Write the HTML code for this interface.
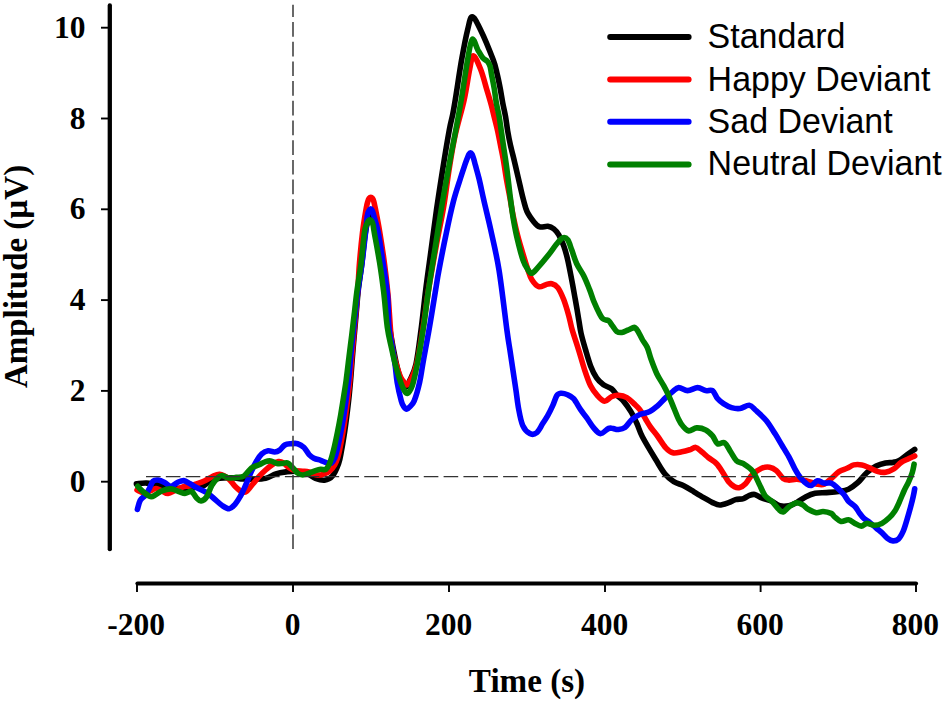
<!DOCTYPE html>
<html><head><meta charset="utf-8"><title>ERP</title>
<style>
html,body{margin:0;padding:0;background:#fff;}
body{width:945px;height:703px;overflow:hidden;}
svg{display:block;}
.tk{font-family:"Liberation Serif",serif;font-weight:bold;font-size:31.5px;fill:#000;}
.ax{font-family:"Liberation Serif",serif;font-weight:bold;font-size:34px;fill:#000;}
.lg{font-family:"Liberation Sans",sans-serif;font-size:36px;fill:#000;}
</style></head><body>
<svg width="945" height="703" viewBox="0 0 945 703">
<rect width="945" height="703" fill="#ffffff"/>
<path d="M136.4,483.8C138.1,483.7 143.0,482.9 146.6,483.1C150.2,483.3 152.3,484.1 158.0,485.0C163.7,485.9 173.7,488.1 181.0,488.3C188.3,488.5 197.0,487.4 201.7,486.3C206.4,485.2 206.4,482.8 209.4,481.5C212.4,480.2 215.8,478.9 219.6,478.3C223.4,477.7 228.6,477.7 232.4,477.8C236.2,477.9 239.3,478.8 242.7,479.0C246.1,479.2 249.0,479.4 252.8,479.3C256.6,479.2 261.8,479.3 265.6,478.4C269.5,477.5 272.5,474.9 275.9,473.8C279.3,472.7 282.4,472.3 286.0,471.9C289.6,471.5 294.0,470.9 297.6,471.2C301.2,471.5 304.9,472.6 307.9,473.8C310.9,475.0 312.7,477.2 315.5,478.3C318.3,479.4 321.7,480.5 324.5,480.2C327.3,479.9 329.8,479.1 332.2,476.3C334.6,473.5 337.0,467.9 338.6,463.5C340.2,459.1 340.6,455.2 341.6,450.0C342.6,444.8 343.7,437.8 344.6,432.0C345.5,426.2 346.2,420.8 346.9,415.0C347.6,409.2 348.4,402.8 349.0,397.0C349.6,391.2 350.0,386.7 350.6,380.0C351.2,373.3 351.8,364.5 352.4,357.0C353.0,349.5 353.6,342.3 354.3,334.8C355.0,327.3 355.6,319.5 356.3,312.0C357.0,304.5 357.4,298.1 358.3,290.0C359.2,281.9 360.8,272.3 361.9,263.1C363.0,253.9 364.0,242.2 365.0,235.0C366.0,227.8 367.1,223.5 368.0,220.0C368.9,216.5 369.5,214.0 370.3,214.0C371.1,214.0 371.7,216.5 372.6,220.0C373.5,223.5 374.2,227.8 375.5,235.0C376.8,242.2 378.9,253.0 380.5,263.0C382.1,273.0 383.4,283.8 385.0,295.0C386.6,306.2 388.2,318.8 390.0,330.0C391.8,341.2 394.2,353.7 396.0,362.0C397.8,370.3 399.4,375.8 401.0,380.0C402.6,384.2 404.1,386.8 405.5,387.0C406.9,387.2 407.8,384.8 409.5,381.0C411.2,377.2 414.0,373.0 416.0,364.0C418.0,355.0 419.8,339.3 421.4,327.0C423.0,314.7 424.1,302.8 425.7,290.0C427.3,277.2 429.3,263.3 431.1,250.0C432.9,236.7 434.6,223.3 436.5,210.0C438.4,196.7 440.5,183.3 442.6,170.0C444.7,156.7 447.6,139.3 449.3,130.0C451.0,120.7 451.8,119.1 452.8,114.0C453.8,108.9 453.8,108.6 455.3,99.6C456.8,90.6 459.6,71.4 461.6,59.8C463.7,48.2 465.8,37.0 467.6,29.9C469.4,22.8 470.0,16.9 472.2,16.9C474.4,16.9 477.1,22.8 480.6,29.9C484.1,37.0 490.4,52.4 493.2,59.8C496.0,67.2 496.0,69.4 497.2,74.2C498.4,79.0 499.3,83.7 500.2,88.4C501.1,93.2 501.8,98.0 502.7,102.7C503.6,107.5 504.8,112.2 505.6,116.9C506.4,121.6 506.9,126.4 507.7,131.1C508.5,135.8 509.4,140.5 510.5,145.3C511.6,150.1 513.3,156.6 514.1,160.0C514.9,163.4 514.4,161.3 515.5,166.0C516.6,170.7 519.3,182.3 520.6,188.0C521.9,193.7 522.4,196.1 523.5,200.0C524.6,203.9 525.3,207.8 527.0,211.5C528.7,215.2 531.8,219.3 533.9,221.9C536.0,224.5 537.5,226.2 539.8,226.9C542.1,227.6 545.5,226.0 547.8,226.3C550.1,226.6 552.0,227.5 553.8,228.9C555.6,230.3 557.1,232.1 558.8,234.9C560.4,237.7 562.2,241.7 563.7,245.8C565.2,250.0 566.4,254.2 567.7,259.8C569.0,265.4 570.4,273.1 571.7,279.7C573.0,286.3 574.1,293.0 575.3,299.6C576.5,306.2 577.8,313.9 578.7,319.5C579.7,325.1 579.9,327.9 581.0,333.0C582.1,338.1 584.0,344.4 585.6,349.9C587.2,355.4 588.8,361.2 590.6,365.9C592.4,370.5 594.4,374.6 596.5,377.8C598.6,381.0 601.0,383.0 603.5,384.8C606.0,386.6 609.2,387.0 611.5,388.8C613.8,390.6 615.4,393.6 617.5,395.7C619.6,397.8 621.7,399.0 623.9,401.6C626.1,404.2 628.7,408.0 630.9,411.6C633.1,415.2 635.0,419.3 636.9,423.5C638.8,427.7 639.3,430.9 642.5,437.0C645.7,443.1 652.2,453.7 655.9,459.8C659.6,465.9 661.8,470.1 664.8,473.7C667.8,477.3 670.6,479.7 673.8,481.7C676.9,483.7 680.4,484.0 683.7,485.7C687.0,487.4 690.4,489.6 693.7,491.6C697.0,493.6 700.6,495.8 703.7,497.6C706.9,499.4 710.0,501.4 712.6,502.6C715.2,503.8 716.9,505.0 719.6,505.0C722.3,505.0 726.0,503.5 728.6,502.6C731.2,501.7 733.0,500.3 735.5,499.6C738.0,498.9 741.2,499.3 743.5,498.6C745.8,497.9 747.1,496.3 749.0,495.6C750.9,494.9 752.7,494.1 754.8,494.5C756.9,494.9 758.8,496.8 761.6,497.9C764.5,499.0 768.9,500.0 771.9,501.3C774.9,502.6 777.0,505.1 779.8,505.8C782.6,506.6 786.0,506.4 788.9,505.8C791.8,505.2 794.0,503.9 796.9,502.4C799.8,500.9 803.0,498.2 806.0,496.7C809.0,495.2 811.7,494.0 815.1,493.3C818.5,492.6 822.6,492.9 826.5,492.6C830.4,492.3 834.8,492.1 838.5,491.5C842.2,490.9 845.3,490.7 848.5,489.2C851.7,487.7 854.6,485.5 857.7,482.7C860.8,479.9 863.9,475.3 867.0,472.5C870.1,469.7 873.1,467.6 876.2,466.0C879.3,464.4 882.7,463.5 885.5,462.9C888.3,462.3 890.6,462.8 892.9,462.4C895.2,462.0 897.0,461.7 899.3,460.5C901.6,459.3 904.1,456.9 906.7,455.0C909.3,453.1 913.4,450.3 914.7,449.4" fill="none" stroke="#000000" stroke-width="5.6" stroke-linecap="round" stroke-linejoin="round"/>
<path d="M137.0,490.0C138.2,490.5 141.8,492.8 144.0,493.0C146.2,493.2 148.0,491.8 150.0,491.0C152.0,490.2 154.0,488.5 156.0,488.5C158.0,488.5 160.0,490.2 162.0,491.0C164.0,491.8 165.7,493.7 168.0,493.5C170.3,493.3 173.3,491.2 176.0,490.0C178.7,488.8 181.7,487.2 184.0,486.5C186.3,485.8 187.9,486.4 190.0,486.0C192.1,485.6 194.2,484.6 196.6,483.8C199.0,483.0 201.7,482.2 204.3,481.0C206.9,479.8 209.4,477.9 212.0,476.8C214.6,475.7 216.8,473.9 219.6,474.2C222.4,474.5 226.0,476.7 228.6,478.7C231.2,480.7 232.9,484.2 235.0,486.3C237.1,488.4 239.5,490.6 241.4,491.5C243.3,492.4 244.5,492.8 246.4,491.5C248.3,490.2 250.7,486.5 252.8,484.0C254.9,481.5 257.1,478.6 259.2,476.3C261.3,474.0 263.5,471.9 265.6,470.0C267.7,468.1 269.9,466.2 272.0,464.8C274.1,463.4 276.5,461.9 278.4,461.6C280.3,461.3 281.8,461.9 283.5,462.9C285.2,463.9 286.8,466.1 288.7,467.4C290.6,468.7 292.7,470.0 295.0,470.6C297.3,471.2 300.4,471.0 302.7,471.2C305.0,471.4 306.6,471.3 309.0,471.9C311.4,472.5 314.4,474.6 316.8,475.0C319.2,475.4 321.1,475.0 323.2,474.4C325.3,473.8 327.7,472.8 329.6,471.2C331.5,469.6 333.4,467.0 334.7,464.8C336.0,462.6 336.8,460.5 337.6,458.0C338.4,455.5 338.7,454.3 339.6,450.0C340.5,445.7 342.0,437.8 343.0,432.0C344.0,426.2 344.8,420.8 345.6,415.0C346.4,409.2 347.3,402.8 348.0,397.0C348.7,391.2 349.3,386.7 349.9,380.0C350.5,373.3 351.1,364.5 351.8,357.0C352.5,349.5 353.1,342.3 353.8,334.8C354.5,327.3 355.2,319.5 355.9,312.0C356.6,304.5 357.2,298.1 357.8,290.0C358.4,281.9 358.7,272.8 359.5,263.1C360.3,253.4 361.5,241.0 362.6,231.9C363.7,222.8 365.3,213.5 366.2,208.4C367.1,203.3 367.3,203.2 367.8,201.5C368.3,199.8 368.8,198.9 369.3,198.2C369.8,197.5 370.3,197.2 370.8,197.2C371.3,197.2 371.8,197.5 372.3,198.2C372.8,198.9 373.3,199.8 373.8,201.5C374.3,203.2 374.3,203.3 375.3,208.4C376.3,213.5 378.2,222.8 379.7,231.9C381.2,241.0 383.0,252.6 384.4,263.1C385.8,273.6 386.7,281.1 388.0,294.8C389.3,308.5 390.2,332.4 392.0,345.5C393.8,358.6 397.1,367.2 399.0,373.2C400.9,379.2 402.2,379.5 403.5,381.5C404.8,383.5 405.6,385.2 406.8,385.0C408.0,384.8 409.2,382.2 410.5,380.0C411.8,377.8 413.0,375.8 414.3,372.0C415.6,368.2 416.6,365.3 418.2,357.0C419.8,348.7 422.1,333.7 423.9,322.0C425.7,310.3 427.0,299.5 429.0,287.0C431.0,274.5 433.6,260.3 436.0,247.0C438.4,233.7 441.4,219.8 443.6,207.0C445.8,194.2 447.1,181.8 449.0,170.0C450.9,158.2 452.5,147.7 455.0,136.0C457.5,124.3 461.8,110.6 464.2,99.6C466.6,88.5 468.1,77.0 469.6,69.7C471.1,62.4 471.5,55.8 473.4,55.8C475.3,55.8 478.6,64.2 480.8,69.7C483.0,75.2 484.9,83.1 486.6,89.0C488.4,94.9 490.0,100.2 491.3,105.0C492.6,109.8 493.4,113.7 494.5,118.0C495.6,122.3 496.7,126.5 497.7,131.1C498.7,135.7 499.6,140.5 500.5,145.3C501.4,150.1 502.4,154.2 503.4,160.0C504.4,165.8 505.5,173.8 506.6,180.0C507.7,186.2 508.7,191.2 509.8,197.0C510.9,202.8 511.7,208.7 513.0,215.0C514.3,221.3 515.8,228.3 517.5,235.0C519.2,241.7 521.5,249.2 523.3,255.0C525.0,260.8 526.6,265.9 528.0,270.0C529.4,274.1 530.1,276.9 531.9,279.7C533.7,282.5 536.5,285.9 538.8,286.7C541.1,287.5 543.6,285.2 545.8,284.7C548.0,284.2 549.8,283.2 551.8,283.7C553.8,284.2 555.8,285.0 557.8,287.6C559.8,290.2 561.9,295.0 563.7,299.6C565.5,304.2 567.3,310.5 568.7,315.5C570.1,320.5 570.5,323.8 572.1,329.5C573.8,335.2 576.5,343.2 578.6,349.9C580.7,356.6 582.6,363.8 584.6,369.8C586.6,375.8 588.5,381.5 590.6,385.8C592.8,390.1 595.2,393.1 597.5,395.7C599.8,398.3 602.2,401.1 604.5,401.3C606.8,401.5 609.2,397.7 611.5,396.7C613.8,395.7 615.8,395.1 618.4,395.3C621.0,395.5 624.3,396.2 626.9,397.6C629.5,399.0 631.8,401.6 633.9,403.6C636.0,405.6 637.8,407.0 639.8,409.6C641.8,412.2 644.0,416.5 645.8,419.5C647.6,422.5 648.8,424.7 650.8,427.5C652.8,430.3 655.3,433.1 657.8,436.5C660.3,439.9 663.3,445.1 665.8,447.8C668.3,450.5 670.1,452.1 672.8,452.8C675.5,453.5 679.0,452.3 681.8,451.8C684.6,451.3 687.4,450.5 689.7,449.8C692.0,449.1 693.7,447.1 695.7,447.4C697.7,447.7 699.6,450.1 701.7,451.8C703.9,453.5 706.1,455.8 708.6,457.8C711.1,459.8 714.1,461.1 716.6,463.7C719.1,466.3 721.6,470.7 723.6,473.7C725.6,476.7 726.8,479.5 728.6,481.7C730.4,483.9 732.7,485.7 734.5,486.7C736.3,487.7 737.7,488.1 739.5,487.6C741.3,487.1 743.4,485.8 745.5,483.7C747.6,481.6 749.3,477.6 752.0,475.0C754.7,472.4 758.7,469.6 761.6,468.3C764.5,467.0 767.1,466.8 769.6,467.2C772.1,467.6 774.1,468.7 776.4,470.6C778.7,472.5 781.1,476.9 783.2,478.5C785.3,480.1 786.6,480.0 788.9,480.1C791.2,480.2 794.0,479.1 796.9,479.2C799.8,479.3 802.6,480.0 806.0,480.8C809.4,481.6 814.4,483.6 817.4,484.2C820.4,484.8 821.9,485.2 824.2,484.2C826.6,483.2 829.0,480.4 831.5,478.3C834.0,476.2 836.4,473.4 839.0,471.7C841.6,470.0 844.5,469.4 847.0,468.3C849.5,467.2 851.3,465.5 853.8,464.9C856.3,464.3 859.1,464.4 861.8,464.9C864.4,465.4 867.0,466.8 869.7,467.9C872.4,469.0 875.5,470.9 878.1,471.6C880.7,472.3 882.9,472.7 885.5,472.2C888.1,471.7 891.2,470.4 893.8,468.8C896.4,467.2 898.7,464.1 901.2,462.4C903.7,460.7 906.4,459.8 908.6,458.7C910.9,457.6 913.7,456.4 914.7,455.9" fill="none" stroke="#ff0000" stroke-width="5.6" stroke-linecap="round" stroke-linejoin="round"/>
<path d="M137.4,509.4C137.9,507.9 138.9,502.8 140.2,500.4C141.5,498.0 143.9,497.2 145.4,495.3C146.9,493.4 147.9,491.2 149.2,488.9C150.5,486.5 151.5,482.7 153.0,481.2C154.5,479.7 156.3,479.8 158.2,480.0C160.1,480.2 162.5,481.4 164.6,482.5C166.7,483.6 168.9,486.3 171.0,486.3C173.1,486.3 175.3,483.4 177.4,482.5C179.5,481.6 181.7,480.4 183.8,480.6C185.9,480.8 187.8,482.5 190.2,483.8C192.5,485.1 195.1,486.8 197.9,488.3C200.7,489.8 204.0,490.9 206.8,492.7C209.6,494.5 211.9,496.9 214.5,499.0C217.1,501.1 219.8,503.9 222.2,505.5C224.6,507.1 227.1,508.9 229.2,508.7C231.3,508.5 233.1,506.4 235.0,504.3C236.9,502.2 238.8,498.9 240.5,496.0C242.2,493.1 243.2,490.7 245.0,486.6C246.8,482.5 249.6,475.5 251.5,471.2C253.4,466.9 254.9,463.9 256.6,461.0C258.3,458.1 259.9,455.6 261.8,453.9C263.7,452.2 266.1,451.0 268.2,450.7C270.3,450.4 272.7,452.1 274.6,452.0C276.5,451.9 278.0,451.3 279.7,450.1C281.4,448.9 282.9,446.1 284.8,445.0C286.7,443.9 289.1,443.9 291.2,443.7C293.3,443.5 295.5,443.1 297.6,443.7C299.7,444.3 302.1,445.7 304.0,447.5C305.9,449.3 307.4,452.8 309.1,454.6C310.8,456.4 312.4,457.4 314.3,458.4C316.2,459.3 318.6,459.6 320.7,460.3C322.8,461.1 325.2,462.4 327.0,462.9C328.8,463.3 330.2,463.8 331.5,463.0C332.8,462.2 333.9,460.2 334.8,458.0C335.7,455.8 336.1,454.3 337.1,450.0C338.1,445.7 339.8,437.8 340.9,432.0C342.0,426.2 343.0,420.8 343.9,415.0C344.8,409.2 345.7,402.8 346.5,397.0C347.3,391.2 347.9,386.7 348.6,380.0C349.3,373.3 350.0,364.5 350.7,357.0C351.4,349.5 352.2,342.3 353.0,334.8C353.8,327.3 354.7,319.5 355.5,312.0C356.3,304.5 356.9,298.1 358.0,290.0C359.1,281.9 360.8,272.3 362.0,263.1C363.2,253.9 364.4,242.8 365.3,235.0C366.2,227.2 366.7,220.0 367.3,216.0C367.9,212.0 368.3,212.2 368.8,211.0C369.3,209.8 369.9,209.0 370.5,208.9C371.1,208.8 371.6,209.3 372.2,210.5C372.8,211.7 372.9,212.4 373.9,216.0C374.9,219.6 376.6,224.1 378.1,231.9C379.6,239.8 381.5,252.6 383.1,263.1C384.7,273.6 386.5,284.2 387.5,294.8C388.5,305.4 388.1,318.5 388.9,327.0C389.6,335.5 391.0,339.8 392.0,346.0C393.0,352.2 394.1,357.9 395.0,364.0C395.9,370.1 396.1,376.2 397.2,382.4C398.2,388.5 400.2,396.8 401.3,400.9C402.4,405.0 403.1,405.6 404.0,407.0C404.9,408.4 405.9,409.2 406.8,409.2C407.7,409.2 408.4,408.4 409.6,407.0C410.8,405.6 412.5,405.0 414.2,400.9C415.9,396.8 418.2,388.5 419.6,382.4C421.0,376.2 421.2,373.2 422.8,364.0C424.4,354.8 427.4,339.3 429.5,327.0C431.6,314.7 434.1,299.3 435.6,290.0C437.2,280.7 437.0,280.6 438.8,271.0C440.6,261.4 443.9,244.3 446.4,232.6C448.8,220.9 451.2,210.0 453.5,201.0C455.8,192.0 458.5,184.4 460.4,178.5C462.2,172.6 463.5,169.0 464.6,165.6C465.8,162.2 466.6,160.1 467.3,158.2C468.0,156.3 468.4,155.3 468.9,154.4C469.4,153.5 470.0,152.8 470.5,152.8C471.0,152.8 471.6,153.5 472.1,154.4C472.6,155.3 473.0,156.6 473.6,158.5C474.2,160.4 474.6,162.3 475.5,165.6C476.4,168.9 477.6,172.8 479.0,178.5C480.4,184.2 481.8,191.2 483.7,199.7C485.6,208.2 488.1,217.9 490.7,229.6C493.2,241.3 496.3,253.3 499.0,270.0C501.7,286.7 505.1,316.7 506.9,330.0C508.7,343.3 508.9,343.3 509.9,349.9C510.9,356.5 511.9,363.1 512.9,369.8C513.9,376.5 514.9,383.2 515.9,389.8C516.9,396.4 517.6,403.7 518.8,409.7C519.9,415.7 521.0,421.6 522.8,425.6C524.6,429.6 527.5,432.4 529.8,433.6C532.1,434.8 534.6,434.3 536.8,432.6C538.9,430.9 540.9,426.4 542.7,423.6C544.5,420.8 546.0,418.7 547.7,415.7C549.4,412.7 551.2,409.0 552.7,405.7C554.2,402.4 555.4,397.8 556.7,395.7C558.0,393.6 558.9,393.5 560.7,393.3C562.5,393.1 565.5,393.8 567.6,394.7C569.8,395.6 571.4,396.2 573.6,398.7C575.8,401.2 578.4,406.5 580.6,409.7C582.8,412.9 584.5,414.6 586.6,417.6C588.8,420.6 591.2,424.9 593.5,427.6C595.8,430.3 598.0,433.5 600.5,433.6C603.0,433.8 606.3,429.3 608.5,428.5C610.7,427.7 611.9,428.4 613.5,428.6C615.1,428.8 616.0,429.7 617.9,429.5C619.8,429.3 622.6,429.2 624.9,427.5C627.2,425.8 629.4,421.7 631.9,419.5C634.4,417.3 636.8,415.8 639.8,414.5C642.8,413.2 646.8,413.1 649.8,411.6C652.8,410.1 655.1,407.9 657.8,405.6C660.4,403.3 663.2,399.9 665.7,397.6C668.2,395.3 670.5,393.3 672.7,391.6C674.9,389.9 676.2,387.8 678.7,387.6C681.2,387.4 684.5,390.6 687.6,390.6C690.8,390.6 694.6,387.6 697.6,387.6C700.6,387.6 703.1,390.1 705.6,390.6C708.1,391.1 710.5,389.3 712.5,390.6C714.5,391.9 715.7,396.4 717.5,398.6C719.3,400.8 721.2,402.1 723.5,403.6C725.8,405.1 728.8,406.8 731.5,407.6C734.2,408.4 737.0,408.9 740.0,408.5C743.0,408.1 746.6,405.0 749.3,405.3C752.0,405.6 753.2,408.0 756.0,410.5C758.8,413.0 763.0,416.6 766.2,420.5C769.4,424.4 772.6,429.9 775.3,434.1C777.9,438.3 779.8,441.7 782.1,445.5C784.4,449.3 786.8,453.1 788.9,456.9C791.0,460.7 792.7,464.9 794.6,468.3C796.5,471.7 798.2,474.8 800.3,477.4C802.4,480.0 805.3,482.9 807.2,484.2C809.1,485.5 810.0,486.0 811.7,485.4C813.4,484.8 815.3,481.2 817.4,480.8C819.5,480.4 821.9,482.7 824.2,483.1C826.5,483.5 828.9,482.3 831.1,483.1C833.3,483.9 835.3,485.9 837.4,487.8C839.5,489.7 842.0,492.3 843.9,494.5C845.8,496.7 846.6,499.2 848.5,501.2C850.4,503.2 853.1,504.5 855.0,506.5C856.9,508.5 858.1,511.2 859.6,513.2C861.1,515.2 862.5,517.2 864.2,518.7C865.9,520.2 867.7,520.9 869.7,522.4C871.7,523.9 874.2,526.3 876.2,528.0C878.2,529.7 879.9,530.9 881.8,532.6C883.6,534.3 885.4,536.8 887.3,538.2C889.1,539.6 891.0,540.8 892.9,540.9C894.8,541.0 896.7,540.6 898.4,539.1C900.1,537.6 901.6,534.8 903.0,531.7C904.4,528.6 905.5,524.6 906.7,520.6C907.9,516.6 909.3,511.7 910.4,507.7C911.5,503.7 912.5,499.8 913.2,496.6C913.9,493.5 914.5,490.1 914.7,488.8" fill="none" stroke="#0000ff" stroke-width="5.6" stroke-linecap="round" stroke-linejoin="round"/>
<path d="M137.7,486.3C138.5,487.2 140.7,489.8 142.8,491.5C144.9,493.2 148.4,496.1 150.5,496.6C152.6,497.1 153.7,495.7 155.6,494.7C157.5,493.7 159.4,491.8 162.0,490.8C164.6,489.8 168.2,488.8 171.0,488.9C173.8,489.0 176.4,490.8 178.7,491.5C181.0,492.2 182.9,493.4 185.0,493.4C187.1,493.4 189.6,490.8 191.5,491.5C193.4,492.2 195.0,496.3 196.6,497.9C198.2,499.5 199.3,501.2 201.0,501.0C202.7,500.8 205.0,499.3 206.8,496.6C208.6,493.9 210.1,488.2 212.0,485.0C213.9,481.8 216.6,479.0 218.3,477.4C220.0,475.8 220.5,475.4 222.2,475.5C223.9,475.6 226.2,477.7 228.6,478.0C230.9,478.3 233.7,477.7 236.3,477.4C238.9,477.1 241.5,477.6 244.0,476.0C246.5,474.4 249.0,469.9 251.5,468.0C254.0,466.1 256.8,465.9 259.2,464.8C261.6,463.7 263.7,462.2 265.6,461.6C267.5,461.0 268.8,460.7 270.7,461.0C272.6,461.3 275.1,463.1 277.0,463.5C278.9,463.9 280.6,463.6 282.3,463.5C284.0,463.4 285.7,462.2 287.4,462.9C289.1,463.5 290.8,465.7 292.5,467.4C294.2,469.1 295.9,471.8 297.6,473.1C299.3,474.4 300.8,475.0 302.7,475.0C304.6,475.0 307.0,473.8 309.1,473.1C311.2,472.4 313.6,471.2 315.5,470.6C317.4,470.0 319.0,469.5 320.7,469.3C322.4,469.1 324.3,470.3 325.8,469.3C327.3,468.3 328.3,466.7 329.6,463.5C330.9,460.3 332.3,455.2 333.6,450.0C334.9,444.8 336.3,437.9 337.5,432.0C338.7,426.1 339.7,420.7 340.7,414.9C341.7,409.1 342.7,402.8 343.6,397.0C344.5,391.2 345.3,386.7 346.2,380.0C347.1,373.3 348.1,364.5 349.0,357.0C349.9,349.5 350.9,342.3 351.8,334.8C352.7,327.3 353.6,319.5 354.5,312.0C355.4,304.5 356.0,298.1 357.1,290.0C358.2,281.9 359.9,272.8 361.1,263.1C362.3,253.4 363.6,238.3 364.5,231.9C365.4,225.5 366.0,226.3 366.6,224.5C367.2,222.7 367.7,221.8 368.3,221.0C368.9,220.2 369.4,219.8 370.0,219.8C370.6,219.8 371.2,220.1 371.7,221.0C372.2,221.9 372.7,223.2 373.1,225.0C373.5,226.8 373.1,225.6 374.2,231.9C375.3,238.2 378.1,253.1 379.7,263.1C381.3,273.1 382.4,281.4 383.7,292.0C385.0,302.6 386.0,317.7 387.3,327.0C388.6,336.3 390.2,341.8 391.5,348.0C392.8,354.2 393.7,358.3 395.2,364.0C396.7,369.7 399.2,378.1 400.7,382.4C402.2,386.7 402.9,388.1 404.0,390.0C405.1,391.9 406.3,393.6 407.4,393.5C408.5,393.4 409.6,391.4 410.6,389.5C411.6,387.6 412.2,386.6 413.3,382.4C414.4,378.1 415.6,373.2 417.3,364.0C419.0,354.8 421.6,339.3 423.5,327.0C425.4,314.7 426.5,303.7 428.5,290.0C430.5,276.3 433.4,259.2 435.6,245.0C437.9,230.8 439.6,219.2 442.0,205.0C444.4,190.8 447.7,172.5 450.0,160.0C452.3,147.5 453.9,140.1 455.8,130.0C457.7,119.9 459.3,111.3 461.3,99.6C463.3,87.9 465.8,69.8 467.6,59.8C469.4,49.8 470.5,41.1 472.2,39.4C473.9,37.7 476.1,46.7 477.8,49.8C479.6,52.9 481.1,55.8 482.7,57.8C484.3,59.8 486.3,60.1 487.5,61.5C488.7,62.9 489.3,63.9 490.0,66.0C490.7,68.1 490.8,70.5 491.5,74.2C492.2,77.9 493.4,83.7 494.2,88.4C495.0,93.2 495.5,98.0 496.3,102.7C497.1,107.5 498.4,112.2 499.2,116.9C500.0,121.6 500.6,126.4 501.3,131.1C502.0,135.8 502.7,140.5 503.4,145.3C504.1,150.1 504.8,154.6 505.6,160.0C506.4,165.4 507.3,172.2 508.0,178.0C508.7,183.8 509.1,188.0 510.0,195.0C510.9,202.0 512.2,212.4 513.5,219.9C514.8,227.4 515.9,233.2 517.5,239.8C519.1,246.5 521.2,254.8 522.9,259.8C524.6,264.8 526.4,267.4 527.9,269.7C529.4,271.9 530.2,273.6 531.9,273.3C533.5,273.0 535.1,270.6 537.8,267.7C540.4,264.8 544.6,259.8 547.8,255.8C551.0,251.8 554.3,246.8 556.8,243.8C559.3,240.8 560.9,238.5 562.7,237.8C564.5,237.1 566.2,237.8 567.7,239.8C569.2,241.8 570.2,245.8 571.7,249.8C573.2,253.8 574.7,259.4 576.7,263.7C578.7,268.0 581.6,271.4 583.7,275.7C585.9,280.0 587.9,285.4 589.6,289.6C591.3,293.8 592.0,297.1 593.7,301.1C595.4,305.2 598.1,311.0 599.6,313.9C601.1,316.8 601.6,317.6 602.6,318.6C603.6,319.6 604.5,319.5 605.6,319.9C606.7,320.3 607.9,320.0 609.0,321.0C610.1,322.0 611.2,324.2 612.5,325.9C613.8,327.6 615.2,330.3 616.7,331.4C618.2,332.5 619.9,332.7 621.8,332.5C623.6,332.3 626.0,330.9 627.8,330.1C629.6,329.4 631.3,328.4 632.5,328.0C633.7,327.6 634.0,327.0 634.9,327.6C635.8,328.2 636.9,329.5 638.1,331.5C639.3,333.5 640.8,336.8 642.3,339.5C643.8,342.2 645.8,344.2 647.3,347.5C648.8,350.8 649.4,354.6 651.0,359.0C652.6,363.4 654.7,369.2 656.8,373.7C658.9,378.1 661.7,382.0 663.7,385.7C665.7,389.4 667.0,392.0 668.7,395.6C670.4,399.2 672.0,403.6 673.7,407.6C675.4,411.6 677.2,416.4 678.7,419.5C680.2,422.6 681.1,424.1 682.8,426.0C684.5,427.9 686.4,430.6 688.7,430.9C691.0,431.2 693.9,428.1 696.7,427.9C699.5,427.7 703.1,428.6 705.7,429.9C708.4,431.2 710.6,433.6 712.6,435.9C714.6,438.2 715.6,442.6 717.6,443.8C719.6,445.0 722.4,441.5 724.6,442.8C726.8,444.1 728.6,448.8 730.6,451.8C732.6,454.8 734.4,458.8 736.5,460.8C738.6,462.8 740.8,462.0 743.5,463.7C746.2,465.4 749.9,467.6 752.5,471.0C755.1,474.4 757.2,480.1 759.3,484.2C761.4,488.3 762.9,492.8 765.0,495.6C767.1,498.5 769.6,499.0 771.9,501.3C774.2,503.6 776.8,507.5 778.7,509.3C780.6,511.1 781.5,512.4 783.2,512.0C784.9,511.6 786.8,508.5 788.9,507.0C791.0,505.5 793.5,503.3 795.8,502.9C798.1,502.5 800.5,503.6 802.6,504.7C804.7,505.8 806.0,508.0 808.3,509.3C810.6,510.6 813.8,512.3 816.3,512.7C818.8,513.1 820.6,511.4 823.1,511.5C825.6,511.6 829.2,512.5 831.1,513.4C833.0,514.3 832.9,515.5 834.6,516.9C836.3,518.2 838.8,521.0 841.1,521.5C843.4,522.0 846.2,519.4 848.5,519.7C850.8,520.0 852.9,522.3 855.0,523.4C857.1,524.5 859.4,526.1 861.4,526.1C863.4,526.1 864.8,523.5 867.0,523.4C869.2,523.2 871.9,525.2 874.4,525.2C876.9,525.2 879.3,524.6 881.8,523.4C884.3,522.2 887.1,519.8 889.2,517.8C891.4,515.8 893.0,513.9 894.7,511.3C896.4,508.7 897.8,505.5 899.3,502.1C900.8,498.7 902.5,494.4 904.0,491.0C905.5,487.6 907.2,484.9 908.6,481.8C910.0,478.7 911.4,475.4 912.3,472.5C913.2,469.6 913.8,465.6 914.1,464.2" fill="none" stroke="#008000" stroke-width="5.6" stroke-linecap="round" stroke-linejoin="round"/>
<line x1="293" y1="4.7" x2="293" y2="550.5" stroke="#444" stroke-width="1.6" stroke-dasharray="14.7 5" stroke-dashoffset="2.4"/>
<line x1="146" y1="476.6" x2="914.5" y2="476.6" stroke="#333" stroke-width="1.4" stroke-dasharray="14.6 5.24"/>
<line x1="109.8" y1="5.4" x2="109.8" y2="549.2" stroke="#000" stroke-width="4.3" stroke-linecap="round"/>
<line x1="137.5" y1="583.5" x2="916" y2="583.5" stroke="#000" stroke-width="4.2" stroke-linecap="round"/>
<line x1="137" y1="583.5" x2="137" y2="592" stroke="#000" stroke-width="1.9"/>
<line x1="293" y1="583.5" x2="293" y2="592" stroke="#000" stroke-width="1.9"/>
<line x1="449" y1="583.5" x2="449" y2="592" stroke="#000" stroke-width="1.9"/>
<line x1="605" y1="583.5" x2="605" y2="592" stroke="#000" stroke-width="1.9"/>
<line x1="760.6" y1="583.5" x2="760.6" y2="592" stroke="#000" stroke-width="1.9"/>
<line x1="916" y1="583.5" x2="916" y2="592" stroke="#000" stroke-width="1.9"/>
<line x1="101" y1="27.7" x2="110" y2="27.7" stroke="#000" stroke-width="1.9"/>
<line x1="101" y1="118.5" x2="110" y2="118.5" stroke="#000" stroke-width="1.9"/>
<line x1="101" y1="209.3" x2="110" y2="209.3" stroke="#000" stroke-width="1.9"/>
<line x1="101" y1="300.1" x2="110" y2="300.1" stroke="#000" stroke-width="1.9"/>
<line x1="101" y1="390.9" x2="110" y2="390.9" stroke="#000" stroke-width="1.9"/>
<line x1="101" y1="481.7" x2="110" y2="481.7" stroke="#000" stroke-width="1.9"/>
<text x="136.2" y="634.8" text-anchor="middle" class="tk">-200</text>
<text x="292.5" y="634.8" text-anchor="middle" class="tk">0</text>
<text x="448.5" y="634.8" text-anchor="middle" class="tk">200</text>
<text x="604.5" y="634.8" text-anchor="middle" class="tk">400</text>
<text x="760.1" y="634.8" text-anchor="middle" class="tk">600</text>
<text x="915.3" y="634.8" text-anchor="middle" class="tk">800</text>
<text x="85.5" y="37.8" text-anchor="end" class="tk">10</text>
<text x="85.5" y="128.6" text-anchor="end" class="tk">8</text>
<text x="85.5" y="219.4" text-anchor="end" class="tk">6</text>
<text x="85.5" y="310.20000000000005" text-anchor="end" class="tk">4</text>
<text x="85.5" y="401.0" text-anchor="end" class="tk">2</text>
<text x="85.5" y="491.8" text-anchor="end" class="tk">0</text>
<text transform="translate(527,691.7) scale(0.975,1)" text-anchor="middle" class="ax">Time (s)</text>
<text transform="translate(26.8,276.5) rotate(-90) scale(0.97,1)" text-anchor="middle" class="ax">Amplitude (µV)</text>
<line x1="610.2" y1="37.1" x2="688.6" y2="37.1" stroke="#000000" stroke-width="6" stroke-linecap="round"/>
<text transform="translate(707.6,48.4) scale(0.944,1)" class="lg">Standard</text>
<line x1="610.2" y1="79.4" x2="688.6" y2="79.4" stroke="#ff0000" stroke-width="6" stroke-linecap="round"/>
<text transform="translate(707.6,90.7) scale(0.944,1)" class="lg">Happy Deviant</text>
<line x1="610.2" y1="121.8" x2="688.6" y2="121.8" stroke="#0000ff" stroke-width="6" stroke-linecap="round"/>
<text transform="translate(707.6,133.0) scale(0.944,1)" class="lg">Sad Deviant</text>
<line x1="610.2" y1="164.5" x2="688.6" y2="164.5" stroke="#008000" stroke-width="6" stroke-linecap="round"/>
<text transform="translate(707.6,175.3) scale(0.944,1)" class="lg">Neutral Deviant</text>
</svg>
</body></html>
